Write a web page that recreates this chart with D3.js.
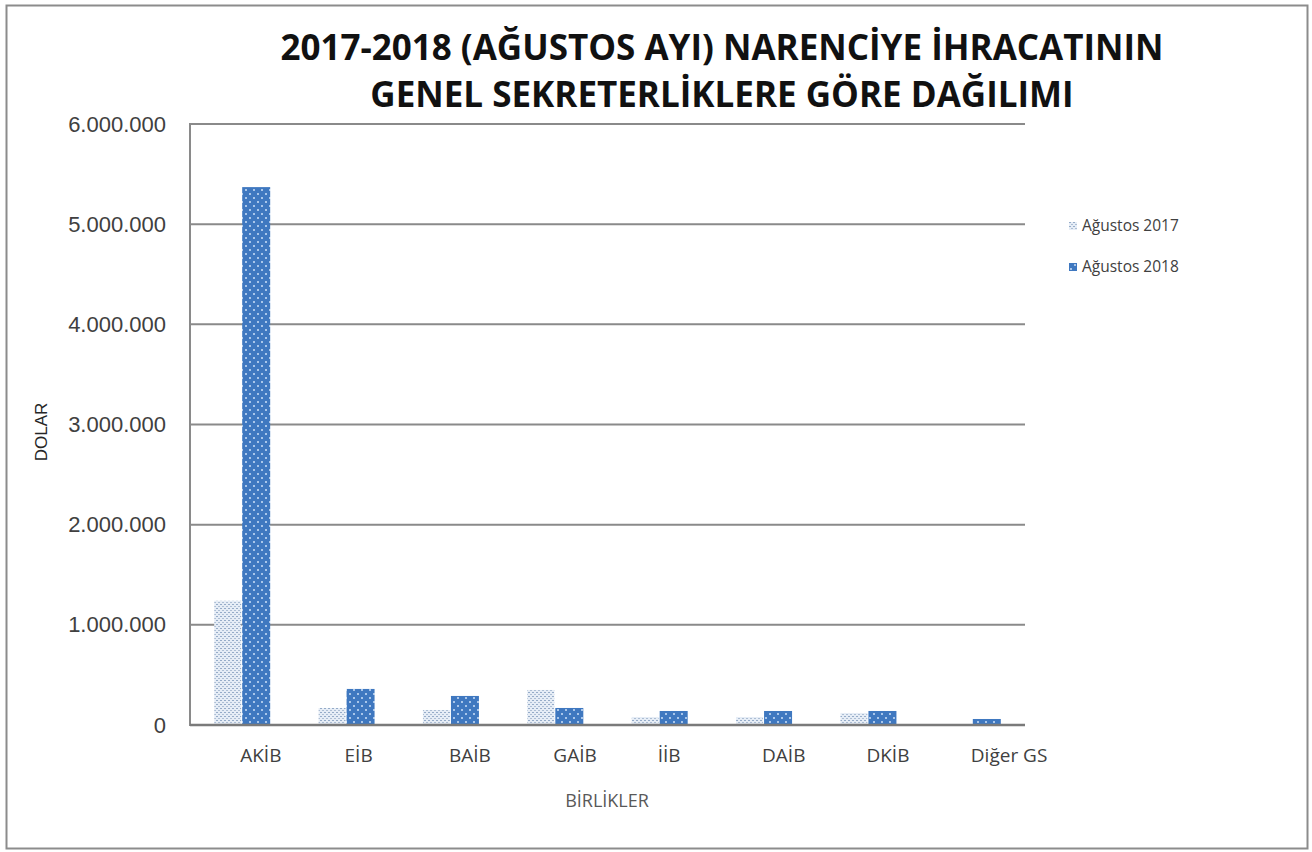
<!DOCTYPE html>
<html><head><meta charset="utf-8">
<script src="https://cdn.jsdelivr.net/npm/d3@7/dist/d3.min.js"></script>
<style>body{margin:0;background:#fff}svg{display:block}</style>
</head><body><svg id="c" width="1312" height="852"></svg>
<script>
const categories = ["AKİB","EİB","BAİB","GAİB","İİB","DAİB","DKİB","Diğer GS"];
const seriesNames = ["Ağustos 2017","Ağustos 2018"];
const values2017 = [1240000,170000,150000,350000,80000,80000,120000,5000];
const values2018 = [5370000,360000,290000,170000,140000,140000,140000,60000];
const yTicks = [0,1000000,2000000,3000000,4000000,5000000,6000000];
const tickLabels = ["0","1.000.000","2.000.000","3.000.000","4.000.000","5.000.000","6.000.000"];
const titleLines = ["2017-2018 (AĞUSTOS AYI) NARENCİYE İHRACATININ","GENEL SEKRETERLİKLERE GÖRE DAĞILIMI"];

const svg = d3.select("#c");
const defs = svg.append("defs");
const p1 = defs.append("pattern").attr("id","p17").attr("patternUnits","userSpaceOnUse").attr("width",4).attr("height",4);
p1.append("rect").attr("width",4).attr("height",4).attr("fill","#e6edf6");
p1.append("rect").attr("x",0).attr("y",0).attr("width",2).attr("height",1).attr("fill","#95abc8");
p1.append("rect").attr("x",2).attr("y",2).attr("width",2).attr("height",1).attr("fill","#adbed4");
const p2 = defs.append("pattern").attr("id","p18").attr("patternUnits","userSpaceOnUse").attr("width",8).attr("height",8);
p2.append("rect").attr("width",8).attr("height",8).attr("fill","#3f78c0");
p2.append("rect").attr("x",1).attr("y",1).attr("width",2).attr("height",2).attr("fill","#a9c6ea");
p2.append("rect").attr("x",5).attr("y",5).attr("width",2).attr("height",2).attr("fill","#a9c6ea");

svg.append("rect").attr("x",6.5).attr("y",5.5).attr("width",1301).attr("height",843)
  .attr("fill","none").attr("stroke","#8c8c8c").attr("stroke-width",2);

const x0 = 190, x1 = 1025, yTop = 124, yBot = 725;
const x = d3.scaleBand().domain(categories).range([x0,x1]).paddingInner(0).paddingOuter(0);
const y = d3.scaleLinear().domain([0,6000000]).range([yBot,yTop]);

svg.append("g").selectAll("line").data(yTicks.slice(1)).join("line")
  .attr("x1",x0).attr("x2",x1).attr("y1",d=>y(d)).attr("y2",d=>y(d))
  .attr("stroke","#8a8a8a").attr("stroke-width",2);

const yAxis = d3.axisLeft(y).tickValues(yTicks).tickFormat((d,i)=>tickLabels[i]).tickSize(0).tickPadding(24);
const ga = svg.append("g").attr("transform",`translate(${x0},0)`).call(yAxis);
ga.select(".domain").remove();
ga.selectAll("text").attr("font-family","Liberation Sans, Arial, sans-serif").attr("font-size",22).attr("fill","#404040");
svg.append("line").attr("x1",x0).attr("x2",x0).attr("y1",yTop-1).attr("y2",yBot+1).attr("stroke","#8a8a8a").attr("stroke-width",2);

const bw = 28;
const g = svg.append("g");
g.selectAll(".b17").data(categories).join("rect").attr("class","b17")
  .attr("x",d=>x(d)+x.bandwidth()/2-bw).attr("width",bw-1)
  .attr("y",(d,i)=>y(values2017[i])).attr("height",(d,i)=>yBot-y(values2017[i]))
  .attr("fill","url(#p17)");
g.selectAll(".b18").data(categories).join("rect").attr("class","b18")
  .attr("x",d=>x(d)+x.bandwidth()/2).attr("width",bw)
  .attr("y",(d,i)=>y(values2018[i])).attr("height",(d,i)=>yBot-y(values2018[i]))
  .attr("fill","url(#p18)");

svg.append("line").attr("x1",x0).attr("x2",x1).attr("y1",yBot).attr("y2",yBot).attr("stroke","#7a7a7a").attr("stroke-width",2.5);

const xAxis = d3.axisBottom(x).tickSize(0).tickPadding(24);
const gx = svg.append("g").attr("transform",`translate(-2,${yBot})`).call(xAxis);
gx.select(".domain").remove();
gx.selectAll("text").attr("text-anchor","start").attr("font-family","Open Sans, sans-serif").attr("font-size",19).attr("fill","#404040");

svg.append("text").attr("x",607).attr("y",807).attr("text-anchor","middle")
  .attr("font-family","Open Sans, sans-serif").attr("font-size",18).attr("fill","#595959").text("BİRLİKLER");
svg.append("text").attr("transform","translate(47,432) rotate(-90)").attr("text-anchor","middle")
  .attr("font-family","Liberation Sans, Arial, sans-serif").attr("font-size",17).attr("fill","#262626").text("DOLAR");

svg.append("g").selectAll("text").data(titleLines).join("text")
  .attr("x",722).attr("y",(d,i)=>60+i*47).attr("text-anchor","middle")
  .attr("font-family","Open Sans, sans-serif").attr("font-weight","bold").attr("font-size",35)
  .attr("fill","#111").text(d=>d);

const lg = svg.append("g").attr("transform","translate(1069,226)");
seriesNames.forEach((s,i)=>{
  const r = lg.append("g").attr("transform",`translate(0,${i*41})`);
  r.append("rect").attr("x",0).attr("y",-4).attr("width",8).attr("height",8).attr("fill",i?"url(#p18)":"url(#p17)");
  r.append("text").attr("x",13).attr("y",5).attr("font-family","Open Sans, sans-serif").attr("font-size",15.5).attr("fill","#404040").text(s);
});
</script></body></html>
